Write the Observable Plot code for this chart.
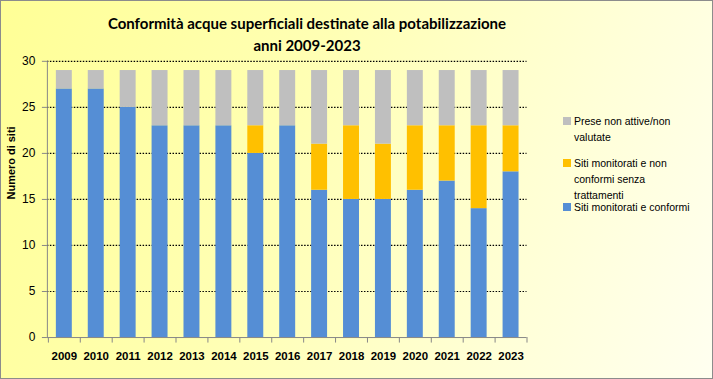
<!DOCTYPE html>
<html><head><meta charset="utf-8">
<script src="https://cdn.jsdelivr.net/npm/d3@7"></script>
<script src="https://cdn.jsdelivr.net/npm/@observablehq/plot@0.6"></script>
<style>
html,body{margin:0;padding:0;}
#wrap{position:relative;width:711px;height:377px;border:1px solid #8c8c8c;
 background:linear-gradient(110deg,#ffff96 0%,#ffffb4 40%,#ffffd8 75%,#fffff0 100%);overflow:hidden;
 font-family:"Liberation Sans",Arial,sans-serif;}
#title{position:absolute;left:56px;width:500px;top:11px;text-align:center;font-weight:bold;font-size:15px;line-height:22px;color:#000;font-family:Lato,"Liberation Sans",sans-serif;white-space:nowrap}
#legend{position:absolute;left:562px;top:112px;font-size:10.5px;color:#000;width:150px;}
.li{position:relative;padding-left:11px;line-height:16px;}
.sw{position:absolute;left:0;top:4px;width:8px;height:8px;}
svg{position:absolute;left:-1px;top:-1px;}
</style></head>
<body><div id="wrap">
<div id="title">Conformità acque superficiali destinate alla potabilizzazione<br>anni 2009-2023</div>
<div id="legend"></div>
</div>
<script>
const years = ["2009","2010","2011","2012","2013","2014","2015","2016","2017","2018","2019","2020","2021","2022","2023"];
const conformi =    [27,27,25,23,23,23,20,23,16,15,15,16,17,14,18];
const nonConformi = [0,0,0,0,0,0,3,0,5,8,6,7,6,9,5];
const nonAttive =   [2,2,4,6,6,6,6,6,8,6,8,6,6,6,6];
const seriesNames = ["Siti monitorati e conformi","Siti monitorati e non conformi senza trattamenti","Prese non attive/non valutate"];
const seriesColors = ["#558ed5","#ffc000","#bfbfbf"];
const yTicks = [0,5,10,15,20,25,30];

const rows = [];
const vals = [conformi, nonConformi, nonAttive];
years.forEach((y,i)=>{ seriesNames.forEach((s,k)=>rows.push({year:y, serie:s, order:k, value:vals[k][i]})); });

const chart = Plot.plot({
  width:713, height:379,
  marginLeft:47, marginRight:185, marginTop:61, marginBottom:41,
  style:{background:"transparent", fontFamily:"Liberation Sans, Arial, sans-serif", fontSize:"11px", color:"#000", overflow:"visible"},
  x:{domain:years, paddingInner:0.5, paddingOuter:0.25, label:null},
  y:{domain:[0,30], label:null},
  color:{domain:seriesNames, range:seriesColors},
  marks:[
    Plot.ruleY(yTicks.filter(d=>d>0), {stroke:"#000", strokeDasharray:"1.5,1.5", strokeWidth:1.2}),
    Plot.barY(rows, {x:"year", y:"value", fill:"serie", order:seriesNames}),
    Plot.axisY({ticks:yTicks, tickSize:5, tickPadding:7, stroke:"#888", label:null, fontSize:12, fill:"#000"}),
    Plot.axisX({tickSize:0, tickPadding:14, fontWeight:"bold", fontSize:11.5, label:null}),
    Plot.frame({anchor:"left", stroke:"#888"}),
    Plot.ruleY([0], {stroke:"#888"}),
    Plot.ruleX(years, {x:d=>d, dx:-16, y1:0, y2:-0.6, stroke:"#888"}),
    Plot.ruleX(years.slice(-1), {x:d=>d, dx:16, y1:0, y2:-0.6, stroke:"#888"}),
    Plot.text(["Numero di siti"], {frameAnchor:"left", dx:-36, rotate:-90, fontWeight:"bold", fontSize:11})
  ]
});
document.getElementById("wrap").appendChild(chart);

const legendItems = [
  {name:"Prese non attive/non valutate", lines:["Prese non attive/non","valutate"], color:seriesColors[2], top:0},
  {name:seriesNames[1], lines:["Siti monitorati e non","conformi senza","trattamenti"], color:seriesColors[1], top:42},
  {name:seriesNames[0], lines:["Siti monitorati e conformi"], color:seriesColors[0], top:86}
];
const leg = document.getElementById("legend");
legendItems.forEach(it=>{
  const d = document.createElement("div");
  d.className="li"; d.style.position="absolute"; d.style.top=it.top+"px"; d.style.left="0";
  d.innerHTML = `<span class="sw" style="background:${it.color}"></span>` + it.lines.join("<br>");
  d.style.whiteSpace="nowrap";
  leg.appendChild(d);
});
</script>
</body></html>
